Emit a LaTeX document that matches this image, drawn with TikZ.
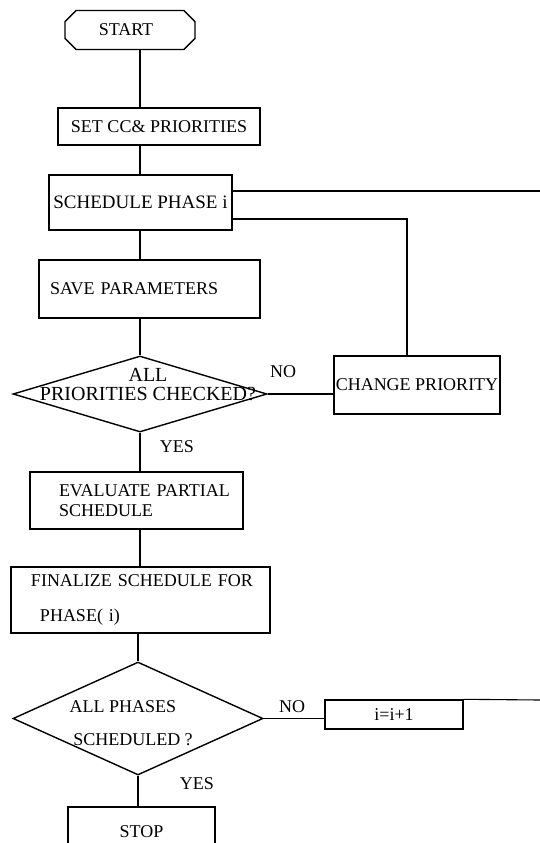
\documentclass[tikz,border=0pt]{standalone}
\usepackage{fontspec}
\setmainfont{Liberation Serif}
\usetikzlibrary{shapes}
\usetikzlibrary{shapes.geometric}
\usetikzlibrary{shapes.misc}
\usetikzlibrary{positioning}
\tikzset{
    boxn/.style = {rectangle, line width=1.4pt, draw=black, align=center, inner sep=2pt, text=black},
    boxl/.style = {rectangle, line width=1.4pt, draw=black, align=left, inner xsep=5pt, inner ysep=2pt, text=black},
    termn/.style = {chamfered rectangle, chamfered rectangle xsep=13pt, line width=1.4pt, draw=black, align=center, inner sep=2pt, text=black},
    decn/.style = {diamond, line width=1.4pt, draw=black, inner sep=0pt},
    dectext/.style = {align=center, inner sep=0pt, text=black},
    lbln/.style = {inner sep=0pt, text=black},
    edgen/.style = {-, line width=1.7pt, black},
    edgel/.style = {-, line width=1.1pt, black}
}

\begin{document}
\begin{tikzpicture}[x=1pt, y=-1pt, font=\fontsize{18}{20}\selectfont]
  \useasboundingbox (0,0) rectangle (540,843);
  \clip (0,0) rectangle (540,843);
  \coordinate (spine) at (140,0);
  \coordinate (loopa) at (540,191);
  \coordinate (loopb) at (407,219);
  \coordinate (loopc) at (540,700);

  \node[termn, minimum width=130pt, minimum height=39pt] (start) at (130,30) {\hspace*{-8pt}START};
  \node[boxn, minimum width=202pt, minimum height=37pt] (setcc) at (159,126.5) {SET CC\& PRIORITIES};
  \node[boxn, minimum width=183pt, minimum height=55pt, font=\fontsize{19}{20}\selectfont] (sched) at (140.5,202.5) {SCHEDULE PHASE i};
  \node[boxl, inner xsep=11pt, text width=199pt, minimum height=58pt] (save) at (149.5,289) {SAVE PARAMETERS};
  \node[decn, minimum width=254pt, minimum height=76pt,
        label={[dectext, font=\fontsize{20}{20}\selectfont, xshift=8pt, yshift=9pt]center:ALL\\[-1pt]PRIORITIES CHECKED?}] (dec1) at (140,394) {};
  \node[boxn, inner xsep=1pt, minimum width=166pt, minimum height=58pt] (chg) at (417,385) {CHANGE PRIORITY};
  \node[boxl, text width=203pt, minimum height=57pt] (eval) at (136.5,500.5) {\hspace*{24pt}EVALUATE PARTIAL\\\hspace*{24pt}SCHEDULE};
  \node[boxl, text width=249pt, minimum height=66pt] (final) at (140.5,600) {\hspace*{15pt}FINALIZE SCHEDULE FOR\\[15pt]\hspace*{24pt}PHASE( i)};
  \node[decn, minimum width=250pt, minimum height=113pt,
        label={[dectext, xshift=-10pt, yshift=-5pt]center:ALL PHASES\hspace*{10pt}\\[13pt]\hspace*{10pt}SCHEDULED ?}] (dec2) at (138,718.5) {};
  \node[boxn, minimum width=138pt, minimum height=29pt] (inc) at (394,714.5) {i=i+1};
  \node[boxn, minimum width=147pt, minimum height=50pt] (stop) at (141.5,832) {STOP};

  \node[lbln] (no1) at (283,372) {NO};
  \node[lbln] (yes1) at (177,447) {YES};
  \node[lbln] (no2) at (292,707) {NO};
  \node[lbln] (yes2) at (197,784) {YES};

  \draw[edgen] (start.south -| spine) -- (setcc.north -| spine);
  \draw[edgen] (setcc.south -| spine) -- (sched.north -| spine);
  \draw[edgen] (sched.south -| spine) -- (save.north -| spine);
  \draw[edgen] (save.south -| dec1.north) -- (dec1.north);
  \draw[edgen] (dec1.south) -- (eval.north -| dec1.south);
  \draw[edgen] (eval.south -| spine) -- (final.north -| spine);
  \draw[edgen] (final.south -| dec2.north) -- (dec2.north);
  \draw[edgen] (dec2.south) -- (stop.north -| dec2.south);
  \draw[edgen] (dec1.east) -- (dec1.east -| chg.west);
  \draw[edgen] (dec2.east) -- (dec2.east -| inc.west);
  \draw[edgel] (sched.east |- loopa) -- (loopa);
  \draw[edgel] (sched.east |- loopb) -- (loopb) -- (chg.north -| loopb);
  \draw[edgel] (inc.north east) -- (loopc);
\end{tikzpicture}
\end{document}
